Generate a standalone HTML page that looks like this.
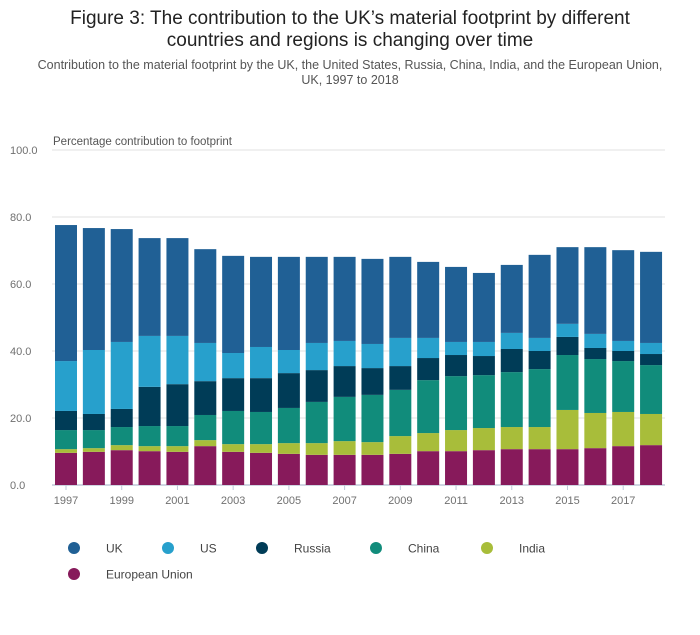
<!DOCTYPE html>
<html><head><meta charset="utf-8"><style>
body{margin:0;background:#fff;font-family:"Liberation Sans",sans-serif;}
#wrap{position:relative;width:700px;height:635px;overflow:hidden;}
.t{position:absolute;left:0;width:700px;text-align:center;color:#222;}
</style></head><body>
<div id="wrap">
<div class="t" style="top:8px;font-size:19px;line-height:22px;">Figure 3: The contribution to the UK’s material footprint by different<br>countries and regions is changing over time</div>
<div class="t" style="top:58px;font-size:12.5px;line-height:15px;color:#555;left:10px;width:680px;">Contribution to the material footprint by the UK, the United States, Russia, China, India, and the European Union,<br>UK, 1997 to 2018</div>
<svg id="chart" width="700" height="635" style="position:absolute;left:0;top:0"></svg>
</div>
<script>
const years=[1997,1998,1999,2000,2001,2002,2003,2004,2005,2006,2007,2008,2009,2010,2011,2012,2013,2014,2015,2016,2017,2018];
const eu=[9.6,9.9,10.4,10.1,9.9,11.6,9.9,9.6,9.3,9.0,9.0,9.0,9.3,10.1,10.1,10.4,10.7,10.7,10.7,11.0,11.6,11.9];
const india=[1.1,1.1,1.5,1.5,1.7,1.8,2.3,2.6,3.2,3.5,4.1,3.8,5.3,5.4,6.3,6.6,6.6,6.6,11.7,10.5,10.2,9.3];
const china=[5.7,5.4,5.4,6.0,6.0,7.5,9.9,9.6,10.5,12.3,13.2,14.1,13.8,15.8,16.1,15.8,16.4,17.3,16.4,16.1,15.2,14.6];
const russia=[5.7,4.8,5.4,11.7,12.5,10.1,9.8,10.1,10.4,9.5,9.2,8.0,7.1,6.6,6.3,5.7,6.9,5.4,5.4,3.3,3.0,3.3];
const us=[14.9,19.1,20.0,15.2,14.4,11.4,7.5,9.3,6.9,8.1,7.5,7.2,8.4,6.0,3.9,4.2,4.8,3.9,3.9,4.2,3.0,3.3];
const uk=[40.6,36.4,33.7,29.2,29.2,28.0,29.0,26.9,27.8,25.7,25.1,25.4,24.2,22.7,22.4,20.6,20.3,24.8,22.9,25.9,27.1,27.2];
const seriesNames=["European Union","India","China","Russia","US","UK"];
const yTicks=[0,20,40,60,80,100];
const xTickYears=[1997,1999,2001,2003,2005,2007,2009,2011,2013,2015,2017];

const NS="http://www.w3.org/2000/svg";
const svg=document.getElementById('chart');
const colors={"UK":"#206095","US":"#27a0cc","Russia":"#003c57","China":"#118c7b","India":"#a8bd3a","European Union":"#871a5b"};
const data={"European Union":eu,"India":india,"China":china,"Russia":russia,"US":us,"UK":uk};
const y0=485,pxPer=3.35,x0=55,step=27.86,bw=22;
const yS=v=>y0-v*pxPer;
const xS=i=>x0+i*step;
function mk(tag,attrs,parent){const e=document.createElementNS(NS,tag);for(const k in attrs)e.setAttribute(k,attrs[k]);(parent||svg).appendChild(e);return e;}

yTicks.forEach(t=>{
  const g=mk('line',{x1:52,x2:665,y1:yS(t),y2:yS(t),stroke:t===0?'#bfc9d9':'#e2e2e2','stroke-width':t===0?1.5:1});
  
  
  const tx=mk('text',{x:10,y:yS(t)+4,'font-size':11,fill:'#707070'});
  tx.textContent=t.toFixed(1);
  
  
});
const yt=mk('text',{x:53,y:yS(100)-5,'font-size':11.5,fill:'#555'});
yt.textContent='Percentage contribution to footprint';



years.forEach((yr,i)=>{
  let cum=0;
  seriesNames.forEach(s=>{
    const v=data[s][i];
    const r=mk('rect',{x:xS(i),y:yS(cum+v),width:bw,height:v*pxPer,fill:colors[s]});
    
    
    cum+=v;
  });
  if(xTickYears.includes(yr)){
    const cx=xS(i)+bw/2;
    const tk=mk('line',{x1:cx,x2:cx,y1:y0,y2:y0+5,stroke:'#bfc9d9'});
    
    
    const tl=mk('text',{x:cx,y:y0+19,'font-size':11,fill:'#707070','text-anchor':'middle'});
    tl.textContent=yr;
    
    
  }
});

const legend=[["UK",74,548],["US",168,548],["Russia",262,548],["China",376,548],["India",487,548],["European Union",74,574]];
legend.forEach(([s,x,y])=>{
  const c=mk('circle',{cx:x,cy:y,r:6,fill:colors[s]});
  
  
  const t=mk('text',{x:x+32,y:y+4.5,'font-size':12,fill:'#444'});
  t.textContent=s;
  
  
});
</script>
</body></html>
